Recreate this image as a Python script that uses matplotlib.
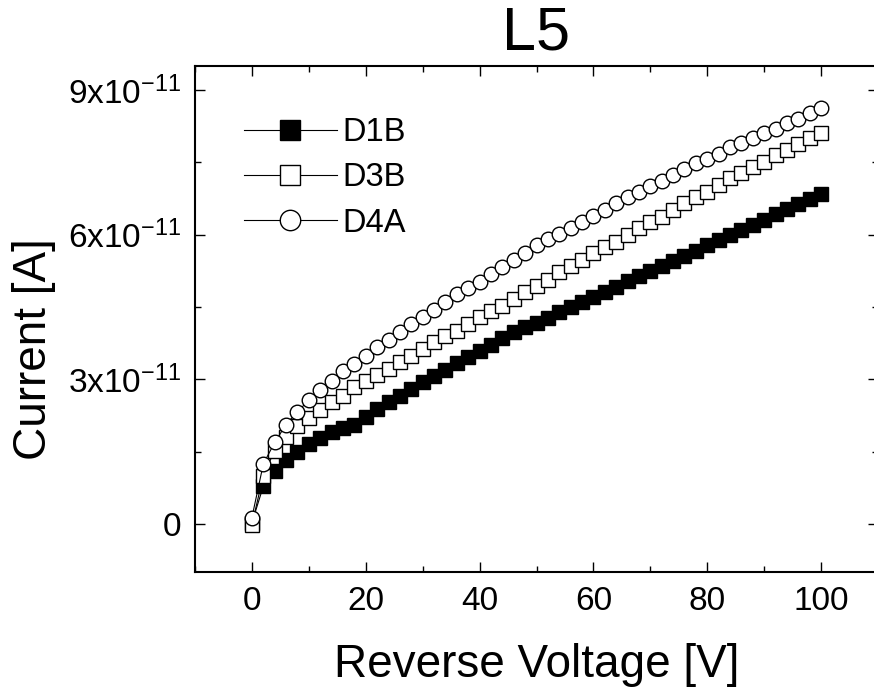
import matplotlib
matplotlib.use("Agg")
import matplotlib.pyplot as plt

plt.rcParams['font.family'] = ['Liberation Sans', 'DejaVu Sans']
plt.rcParams['mathtext.default'] = 'regular'

# reverse voltage steps (V)
voltage = list(range(0, 101, 2))

# currents in units of 1e-11 A
d1b = [0.02, 0.78, 1.10, 1.32, 1.50, 1.65, 1.78, 1.90, 1.98, 2.05,
       2.22, 2.38, 2.52, 2.66, 2.80, 2.94, 3.07, 3.20, 3.33, 3.46,
       3.59, 3.72, 3.85, 3.97, 4.09, 4.17, 4.28, 4.39, 4.49, 4.60,
       4.71, 4.82, 4.92, 5.03, 5.14, 5.24, 5.35, 5.46, 5.56, 5.67,
       5.78, 5.88, 5.99, 6.10, 6.21, 6.31, 6.42, 6.53, 6.63, 6.74,
       6.85]
d3b = [-0.02, 1.00, 1.52, 1.80, 2.02, 2.20, 2.37, 2.52, 2.66, 2.83,
       2.97, 3.08, 3.22, 3.35, 3.49, 3.63, 3.77, 3.90, 4.01, 4.15,
       4.29, 4.42, 4.53, 4.67, 4.80, 4.93, 5.05, 5.22, 5.36, 5.47,
       5.61, 5.74, 5.85, 5.99, 6.13, 6.26, 6.37, 6.51, 6.65, 6.78,
       6.89, 7.03, 7.17, 7.27, 7.41, 7.51, 7.65, 7.75, 7.89, 8.00,
       8.10]
d4a = [0.13, 1.24, 1.69, 2.06, 2.33, 2.56, 2.77, 2.97, 3.17, 3.32,
       3.49, 3.67, 3.82, 3.98, 4.15, 4.29, 4.44, 4.60, 4.76, 4.90,
       5.02, 5.19, 5.33, 5.48, 5.62, 5.78, 5.92, 6.02, 6.13, 6.26,
       6.38, 6.52, 6.66, 6.78, 6.89, 7.02, 7.12, 7.23, 7.37, 7.48,
       7.58, 7.68, 7.81, 7.91, 8.01, 8.11, 8.20, 8.31, 8.41, 8.53,
       8.62]

xticks = [0, 20, 40, 60, 80, 100]
xminor = [-10, 10, 30, 50, 70, 90, 110]
yticks = [0, 3e-11, 6e-11, 9e-11]
ylabels = ["0", r"3x10$^{-11}$", r"6x10$^{-11}$", r"9x10$^{-11}$"]
yminor = [1.5e-11, 4.5e-11, 7.5e-11]

series = [("D1B", d1b, 's', 'black', 9.8),
          ("D3B", d3b, 's', 'white', 9.8),
          ("D4A", d4a, 'o', 'white', 10.5)]

fig = plt.figure(figsize=(8.74, 6.89), dpi=100)
# right spine sits just past the picture edge, as in the original
ax = fig.add_axes([195/874, 117/689, 683/874, 506/689])

for name, vals, mk, fc, ms in series:
    ax.plot(voltage, [v * 1e-11 for v in vals], color='black', lw=0.8,
            marker=mk, markersize=ms, markerfacecolor=fc,
            markeredgecolor='black', markeredgewidth=1.0, label=name)

ax.set_xlim(-10, 110)
ax.set_ylim(-1e-11, 9.5e-11)
ax.set_xticks(xticks)
ax.set_xticks(xminor, minor=True)
ax.set_yticks(yticks, ylabels)
ax.set_yticks(yminor, minor=True)

ax.tick_params(which='both', direction='in', top=True, right=True, width=1.0)
ax.tick_params(which='major', length=7, labelsize=24)
ax.tick_params(which='minor', length=4.5)
ax.tick_params(axis='x', which='major', pad=10)
ax.tick_params(axis='y', which='major', pad=10)
for sp in ax.spines.values():
    sp.set_linewidth(1.5)

ax.set_xlabel("Reverse Voltage [V]", fontsize=33, labelpad=19)
ax.set_ylabel("Current [A]", fontsize=33)
ax.yaxis.set_label_coords(-0.204, 0.44)
ax.set_title("L5", fontsize=44, pad=12)

# legend markers are drawn larger than the data markers
ax.legend(loc='upper left', bbox_to_anchor=(0.0717, 0.899), frameon=False,
          fontsize=23.5, numpoints=1, markerscale=1.4, handlelength=2.85,
          handletextpad=0.18, labelspacing=0.44, borderpad=0, borderaxespad=0)

fig.savefig("out.png", dpi=100)
